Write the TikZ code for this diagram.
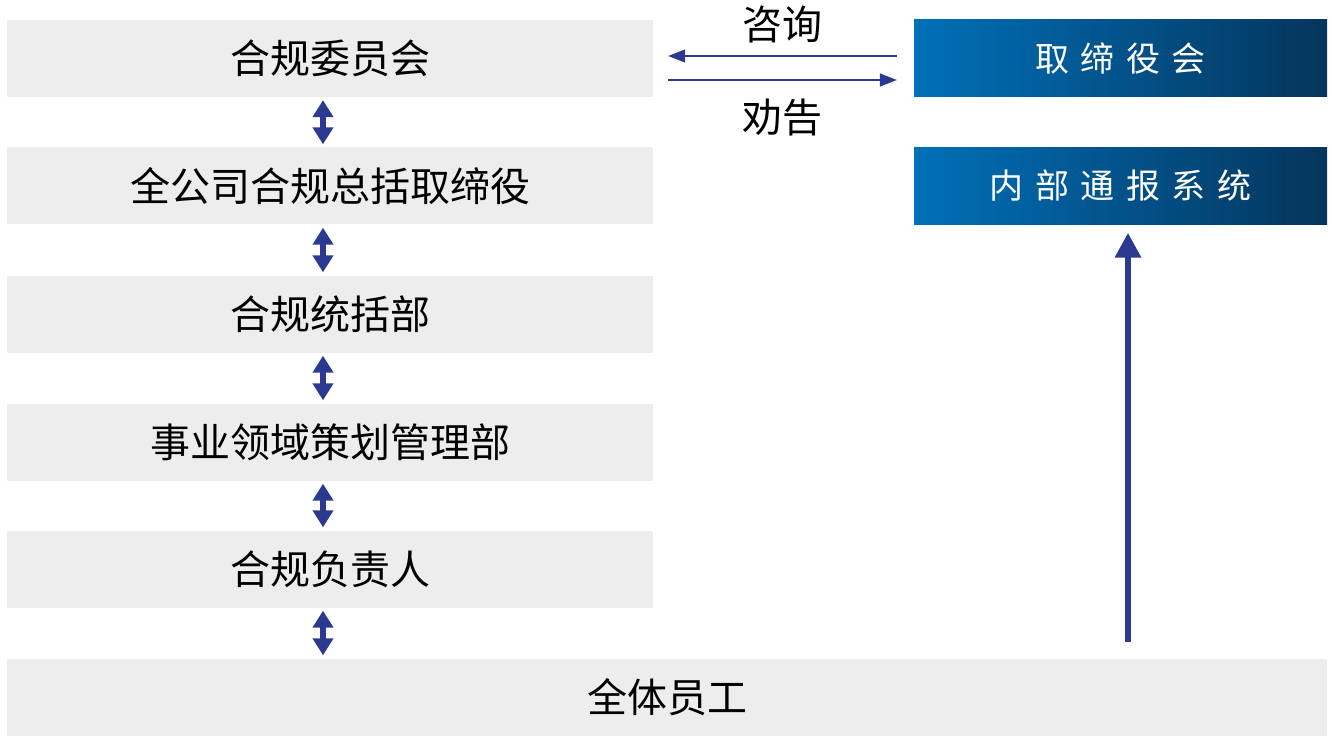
\documentclass[tikz,border=0pt]{standalone}
\usepackage{fontspec}
\setmainfont{Noto Sans CJK SC}
\usetikzlibrary{arrows.meta}
\definecolor{boxgray}{HTML}{EDEDED}
\definecolor{navy}{HTML}{2B3990}
\definecolor{blueL}{HTML}{0070B8}
\definecolor{blueR}{HTML}{05355C}
\newcommand{\gapc}{\hspace{11.5pt}}
\tikzset{
  graybox/.style={rectangle, fill=boxgray, inner sep=0pt, minimum width=646pt, minimum height=77pt, font=\fontsize{40}{42}\selectfont},
  bluebox/.style={rectangle, left color=blueL, right color=blueR, inner sep=0pt, minimum width=413pt, minimum height=77pt, text=white, font=\fontsize{34}{36}\selectfont},
  dbl/.style={navy, line width=6pt, {Triangle[width=20pt,length=17pt]}-{Triangle[width=20pt,length=17pt]}},
  thin/.style={navy, line width=1.4pt, -{Triangle[width=13pt,length=17pt]}},
  big/.style={navy, line width=6.5pt, -{Triangle[width=25pt,length=25pt]}},
  lbl/.style={inner sep=0pt, font=\fontsize{40}{42}\selectfont}
}
\begin{document}
\begin{tikzpicture}[x=1pt,y=-1pt]
\useasboundingbox (0,0) rectangle (1332,743);
\node[graybox] (b1) at (330,58.5) {合规委员会};
\node[graybox] (b2) at (330,186) {全公司合规总括取缔役};
\node[graybox] (b3) at (330,314) {合规统括部};
\node[graybox] (b4) at (330,442) {事业领域策划管理部};
\node[graybox] (b5) at (330,569) {合规负责人};
\node[graybox, minimum width=1320pt] (b6) at (667,697) {全体员工};
\node[bluebox] (r1) at (1120.5,58.5) {取\gapc 缔\gapc 役\gapc 会};
\node[bluebox] (r2) at (1120.5,186) {内\gapc 部\gapc 通\gapc 报\gapc 系\gapc 统};
\node[lbl] (q) at (782,24) {咨询};
\node[lbl] (a) at (782,117) {劝告};
\foreach \u/\l in {b1/b2,b2/b3,b3/b4,b4/b5}{
  \draw[dbl] ([xshift=-7pt,yshift=-3pt]\u.south) -- ([xshift=-7pt,yshift=3pt]\l.north);
}
\coordinate (e6) at (b5.south |- b6.north);
\draw[dbl] ([xshift=-7pt,yshift=-3pt]b5.south) -- ([xshift=-7pt,yshift=3pt]e6);
\draw[thin] ([xshift=-17pt,yshift=2.5pt]r1.west) -- ([xshift=15pt,yshift=2.5pt]b1.east);
\draw[thin] ([xshift=15pt,yshift=-21.5pt]b1.east) -- ([xshift=-17pt,yshift=-21.5pt]r1.west);
\coordinate (s) at (1128,642);
\coordinate (t) at ([yshift=-8pt]r2.south -| s);
\draw[big] (s) -- (t);
\end{tikzpicture}
\end{document}
